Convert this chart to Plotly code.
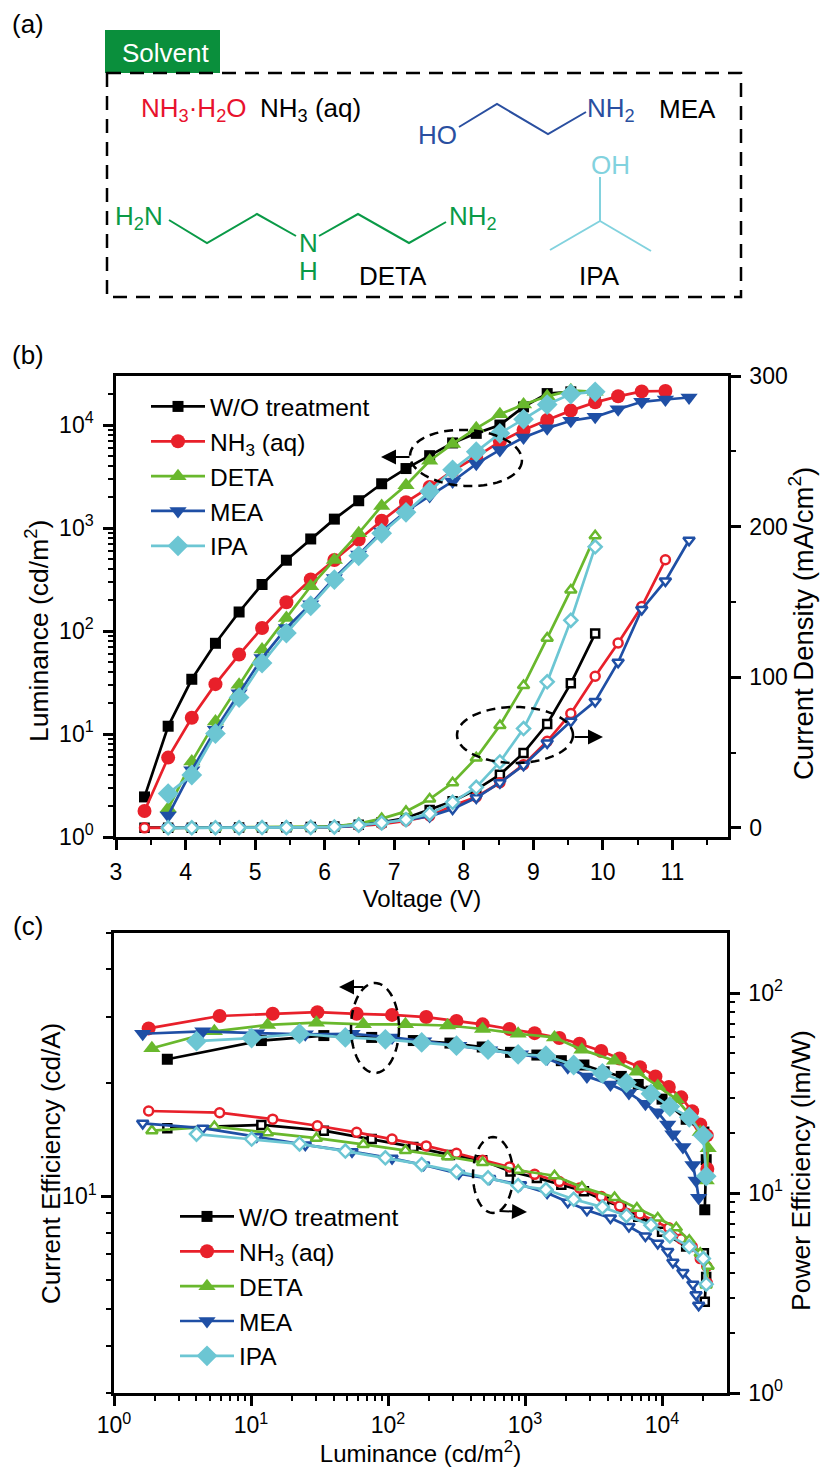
import math
import plotly.graph_objects as go

W, H = 821, 1467
FONT = "Liberation Sans, Arial, sans-serif"

# ---------- Panel (b) ----------
NAMES = ["W/O treatment", "NH<sub>3</sub> (aq)", "DETA", "MEA", "IPA"]
COLORS = ["#000000", "#e8202a", "#69b82d", "#1f4fa5", "#6cc6d3"]
V_GRID = [3.41, 3.75, 4.09, 4.43, 4.77, 5.10, 5.45, 5.80, 6.14, 6.49, 6.82, 7.17,
          7.51, 7.84, 8.18, 8.52, 8.86, 9.20, 9.54, 9.89, 10.22, 10.56, 10.90, 11.24]

V_black = V_GRID[:20]
L_black = [2.45, 11.9, 34, 76, 153, 283, 487, 783, 1220, 1840, 2690, 3780, 5040, 6700,
           8300, 10000, 15000, 20200, 21000, 20500]
J_black = [0.2, 0.2, 0.2, 0.2, 0.3, 0.3, 0.4, 0.6, 1.0, 2.2, 3.8, 6.6, 12, 17.7, 25.4,
           35.4, 49.8, 69, 96, 129]

V_red = V_GRID[:23]
L_red = [1.79, 5.9, 14.4, 30.5, 59, 107, 190, 316, 490, 771, 1175, 1780, 2500, 3600, 4900,
         6900, 8950, 11200, 13800, 16600, 19000, 21200, 21400]
J_red = [0.1, 0.1, 0.1, 0.1, 0.2, 0.2, 0.3, 0.4, 0.6, 1.3, 2.6, 4.6, 8, 14.8, 20.6, 30,
         42, 57.5, 76, 100.7, 122.8, 147, 178]

V_deta = V_GRID[1:20]
L_deta = [1.89, 5.4, 13.2, 30, 66, 134, 272, 490, 890, 1640, 2600, 4500, 6550, 9300, 12700,
          15800, 19000, 21700, 21000]
J_deta = [0.1, 0.2, 0.2, 0.3, 0.3, 0.4, 0.6, 1.0, 2.9, 6.2, 11, 19.2, 30, 46.5, 68, 94.5,
          126, 158, 193.9]

V_mea = V_GRID[1:24]
L_mea = [1.62, 4.45, 11, 24.9, 54.6, 107, 182, 328, 552, 927, 1450, 2050, 2830, 4200, 5730,
         7560, 9300, 11000, 12000, 14200, 16800, 17700, 18500]
J_mea = [0.1, 0.1, 0.1, 0.1, 0.2, 0.2, 0.3, 0.5, 1.5, 3.3, 5.5, 7.7, 12.6, 20, 30, 41.6,
         56.4, 70.8, 84, 110, 145, 164, 191]

V_ipa = V_GRID[1:20]
L_ipa = [2.64, 4.0, 10.1, 22.6, 48.8, 95.6, 176, 316, 537, 890, 1420, 2265, 3670, 5500, 8300,
         11400, 15800, 20000, 21000]
J_ipa = [0.1, 0.1, 0.2, 0.2, 0.3, 0.3, 0.4, 0.7, 1.8, 3.3, 5.5, 9.5, 17, 27, 43.8, 66, 97,
         137.8, 186.6]

# ---------- Panel (c) ----------
LC_black = L_black
CE_black = [23.1, 25.9, 26.7, 26.4, 25.9, 25.5, 24.9, 24.1, 23.7, 22.9, 22.3, 21.4, 20.8, 19.8,
            19.0, 18.1, 16.0, 14.8, 12.5, 9.2]
PE_black = [21.1, 21.9, 20.5, 18.6, 17.0, 15.5, 14.6, 12.8, 11.9, 11.0, 10.2, 9.2, 8.5, 7.6,
            7.1, 6.4, 5.4, 5.0, 3.8, 2.86]
LC_red = L_red
CE_red = [27.9, 30.1, 30.5, 30.8, 30.5, 30.3, 29.9, 29.2, 28.6, 27.8, 27.1, 26.3, 25.4, 24.3,
          23.2, 22.0, 20.8, 19.5, 18.3, 16.8, 15.5, 14.5, 11.8]
PE_red = [25.7, 25.2, 23.4, 21.7, 20.1, 18.6, 17.2, 15.8, 14.6, 13.5, 12.4, 11.4, 10.6, 9.6,
          8.6, 7.85, 7.2, 6.7, 5.9, 5.4, 4.7, 4.3, 3.55]
LC_deta = L_deta
CE_deta = [24.7, 27.4, 28.5, 28.9, 28.6, 28.6, 28.4, 27.8, 27.0, 26.4, 24.5, 22.9, 21.4, 19.6,
           18.1, 16.5, 14.8, 13.4, 11.0]
PE_deta = [20.5, 21.5, 20.0, 18.8, 17.5, 16.3, 15.2, 14.2, 13.0, 12.2, 10.7, 9.5, 8.4, 7.5,
           6.7, 5.8, 5.0, 4.3, 3.47]
LC_mea = L_mea
CE_mea = [27.0, 27.4, 27.1, 26.9, 27.0, 26.4, 25.8, 25.1, 24.4, 23.8, 23.2, 22.0, 20.8, 19.8,
          18.8, 17.6, 16.7, 15.5, 14.6, 13.5, 12.1, 11.0, 9.9]
PE_mea = [22.3, 21.1, 19.1, 17.4, 16.1, 14.9, 13.8, 12.5, 11.8, 11.0, 10.0, 9.0, 8.2, 7.5, 6.8,
          6.1, 5.6, 5.1, 4.5, 4.0, 3.5, 3.1, 2.75]
LC_ipa = L_ipa[1:]
CE_ipa = [25.8, 26.3, 27.0, 26.4, 26.1, 25.6, 25.1, 24.5, 23.8, 23.6, 22.3, 21.2, 20.0, 18.7,
          17.3, 16.2, 14.5, 11.3]
PE_ipa = [19.7, 18.6, 17.6, 16.2, 15.0, 13.9, 12.8, 11.9, 10.9, 10.4, 9.3, 8.5, 7.7, 6.9, 6.1,
          5.4, 4.7, 3.5]

# ---------- Tick labels ----------
LUM_TICKS = [1, 10, 100, 1000, 10000]
LUM_LABELS = ["10<sup>0</sup>", "10<sup>1</sup>", "10<sup>2</sup>", "10<sup>3</sup>", "10<sup>4</sup>"]
CE_TICKS = [10]
CE_LABELS = ["10<sup>1</sup>"]
PE_TICKS = [1, 10, 100]
PE_LABELS = ["10<sup>0</sup>", "10<sup>1</sup>", "10<sup>2</sup>"]

SYMBOLS = ["square", "circle", "triangle-up", "triangle-down", "diamond"]
SIZES = [11, 14, 15, 15, 16]
OSIZES = [8, 9, 10, 10, 10]

SER_B = [(V_black, L_black, J_black), (V_red, L_red, J_red), (V_deta, L_deta, J_deta),
         (V_mea, L_mea, J_mea), (V_ipa, L_ipa, J_ipa)]
SER_C = [(LC_black, CE_black, PE_black), (LC_red, CE_red, PE_red), (LC_deta, CE_deta, PE_deta),
         (LC_mea, CE_mea, PE_mea), (LC_ipa, CE_ipa, PE_ipa)]


def px(x):
    return x / W


def py(y):
    return 1 - y / H


fig = go.Figure()
for i, (v, l, j) in enumerate(SER_B):
    fig.add_trace(go.Scatter(x=v, y=j, xaxis="x", yaxis="y2", mode="lines+markers", showlegend=False,
                             line=dict(color=COLORS[i], width=2.7),
                             marker=dict(symbol=SYMBOLS[i], size=OSIZES[i], color="white",
                                         line=dict(color=COLORS[i], width=2.5))))
for i, (v, l, j) in enumerate(SER_B):
    fig.add_trace(go.Scatter(x=v, y=l, xaxis="x", yaxis="y", mode="lines+markers", name=NAMES[i],
                             legend="legend", legendgroup=f"b{i}",
                             line=dict(color=COLORS[i], width=2.7),
                             marker=dict(symbol=SYMBOLS[i], size=SIZES[i], color=COLORS[i])))
for i, (l, ce, pe) in enumerate(SER_C):
    fig.add_trace(go.Scatter(x=l, y=pe, xaxis="x3", yaxis="y4", mode="lines+markers", showlegend=False,
                             line=dict(color=COLORS[i], width=2.7),
                             marker=dict(symbol=SYMBOLS[i], size=OSIZES[i], color="white",
                                         line=dict(color=COLORS[i], width=2.5))))
for i, (l, ce, pe) in enumerate(SER_C):
    fig.add_trace(go.Scatter(x=l, y=ce, xaxis="x3", yaxis="y3", mode="lines+markers", name=NAMES[i],
                             legend="legend2", legendgroup=f"c{i}",
                             line=dict(color=COLORS[i], width=2.7),
                             marker=dict(symbol=SYMBOLS[i], size=SIZES[i], color=COLORS[i])))

AX = dict(showgrid=False, zeroline=False, showline=True, linecolor="black", linewidth=2.5,
          ticks="outside", tickcolor="black", tickwidth=2.5, ticklen=10, automargin=False,
          tickfont=dict(family=FONT, size=23, color="black"))
LOGMINOR = dict(ticks="outside", ticklen=5, tickwidth=2, tickcolor="black", dtick="D1", showgrid=False)


def minor(d):
    return dict(ticks="outside", ticklen=5, tickwidth=2, tickcolor="black", dtick=d, showgrid=False)


B_L, B_R, B_T, B_B = 116, 728, 376, 837
C_L, C_R, C_T, C_B = 114, 727, 933, 1393
XFONT = dict(family=FONT, size=24, color="black")

fig.update_layout(
    width=W, height=H, autosize=False, margin=dict(l=0, r=0, t=0, b=0, pad=0),
    paper_bgcolor="white", plot_bgcolor="white", font=dict(family=FONT, color="black"),
    xaxis=dict(AX, domain=[px(B_L), px(B_R)], anchor="y", range=[3, 11.8], dtick=1, tick0=3,
               minor=minor(0.5), mirror=True, ticklabelstandoff=3,
               title=dict(text="Voltage (V)", standoff=2, font=XFONT)),
    yaxis=dict(AX, domain=[py(B_B), py(B_T)], anchor="x", type="log", range=[0, 4.476],
               tickmode="array", tickvals=LUM_TICKS, ticktext=LUM_LABELS, minor=LOGMINOR,
               ticklabelstandoff=5),
    yaxis2=dict(AX, domain=[py(B_B), py(B_T)], anchor="x", overlaying="y", side="right",
                range=[-6, 300], dtick=100, tick0=0, minor=minor(50), ticklabelstandoff=4),
    xaxis3=dict(AX, domain=[px(C_L), px(C_R)], anchor="y3", type="log", range=[0, 4.474],
                tickmode="array", tickvals=LUM_TICKS, ticktext=LUM_LABELS, minor=LOGMINOR, mirror=True,
                title=dict(text="Luminance (cd/m<sup>2</sup>)", standoff=0, font=XFONT)),
    yaxis3=dict(AX, domain=[py(C_B), py(C_T)], anchor="x3", type="log", range=[0.477, 1.699],
                tickmode="array", tickvals=CE_TICKS, ticktext=CE_LABELS, minor=LOGMINOR),
    yaxis4=dict(AX, domain=[py(C_B), py(C_T)], anchor="x3", overlaying="y3", side="right", type="log",
                range=[0, 2.3], tickmode="array", tickvals=PE_TICKS, ticktext=PE_LABELS, minor=LOGMINOR,
                ticklabelstandoff=4),
    legend=dict(x=px(146), y=py(384), xanchor="left", yanchor="top", traceorder="grouped",
                tracegroupgap=0, itemwidth=54, bgcolor="rgba(0,0,0,0)",
                font=dict(family=FONT, size=24.5, color="black")),
    legend2=dict(x=px(175), y=py(1194), xanchor="left", yanchor="top", traceorder="grouped",
                 tracegroupgap=0, itemwidth=54, bgcolor="rgba(0,0,0,0)",
                 font=dict(family=FONT, size=24.5, color="black")),
)

shapes = []
ann = []


def seg(points, color, width=2, dash="solid"):
    path = "M " + " L ".join(f"{px(x):.5f} {py(y):.5f}" for x, y in points)
    shapes.append(dict(type="path", path=path, xref="paper", yref="paper",
                       line=dict(color=color, width=width, dash=dash)))


def text(x, y, s, color="black", size=26, angle=0):
    ann.append(dict(x=px(x), y=py(y), xref="paper", yref="paper", text=s, showarrow=False,
                    xanchor="center", yanchor="middle", textangle=angle,
                    font=dict(family=FONT, size=size, color=color)))


def ellipse(cx, cy, rx, ry, deg=0):
    t = math.radians(deg)
    pts = []
    for k in range(73):
        a = 2 * math.pi * k / 72
        ex, ey = rx * math.cos(a), ry * math.sin(a)
        pts.append((cx + ex * math.cos(t) - ey * math.sin(t), cy + ex * math.sin(t) + ey * math.cos(t)))
    seg(pts, "black", 2.5, "9px,6px")


def arrow(x0, y0, x1, y1):
    ann.append(dict(x=px(x1), y=py(y1), xref="paper", yref="paper", ax=x0 - x1, ay=y0 - y1,
                    axref="pixel", ayref="pixel", text="", showarrow=True, arrowhead=2,
                    arrowsize=1.5, arrowwidth=2, arrowcolor="black"))


GREEN, BLUE, CYAN, RED = "#0a9a47", "#2a4fa0", "#82d2de", "#e8122d"

# Rotated axis titles
text(37, 631, "Luminance (cd/m<sup>2</sup>)", size=26.5, angle=-90)
text(801, 624, "Current Density (mA/cm<sup>2</sup>)", size=27.5, angle=-90)
text(51, 1164, "Current Efficiency (cd/A)", size=26, angle=-90)
text(801, 1171, "Power Efficiency (lm/W)", size=26.5, angle=-90)

# Panel (a)
text(28, 24, "(a)")
text(28, 355, "(b)")
text(28, 926, "(c)")
shapes.append(dict(type="rect", x0=px(105), x1=px(220), y0=py(30), y1=py(73), xref="paper", yref="paper",
                   fillcolor="#0a8f3c", line=dict(width=0)))
text(165, 53, "Solvent", "white")
shapes.append(dict(type="rect", x0=px(107), x1=px(741), y0=py(73), y1=py(297), xref="paper", yref="paper",
                   line=dict(color="black", width=2.5, dash="14px,9px")))
text(193, 109, "NH<sub>3</sub>·H<sub>2</sub>O", RED)
text(310, 109, "NH<sub>3</sub> (aq)")
text(438, 135, "HO", BLUE)
seg([(459, 127), (497, 104), (548, 134), (586, 112)], BLUE)
text(611, 109, "NH<sub>2</sub>", BLUE)
text(687, 109, "MEA")
text(139, 218, "H<sub>2</sub>N", GREEN)
seg([(169, 220), (207, 243), (257, 214), (296, 236)], GREEN)
seg([(319, 236), (358, 214), (409, 243), (446, 222)], GREEN)
text(473, 218, "NH<sub>2</sub>", GREEN)
text(308, 243, "N", GREEN)
text(308, 271, "H", GREEN)
text(393, 276, "DETA")
seg([(600, 177), (600, 221), (550, 250)], CYAN)
seg([(600, 221), (651, 251)], CYAN)
text(610, 165, "OH", CYAN)
text(599, 276, "IPA")

# Guide ellipses and arrows
ellipse(466, 458, 56, 28, 3)
arrow(411, 457, 381, 457)
ellipse(515, 735, 58, 28, 0)
arrow(573, 737, 603, 737)
ellipse(375, 1028, 24, 45, 0)
arrow(365, 987, 339, 987)
ellipse(493, 1175, 20, 38, 0)
arrow(498, 1211, 527, 1212)

fig.update_layout(shapes=shapes, annotations=ann)
fig.write_html("out.html", config={"displayModeBar": False},
               post_script="document.body.style.margin='0';")
